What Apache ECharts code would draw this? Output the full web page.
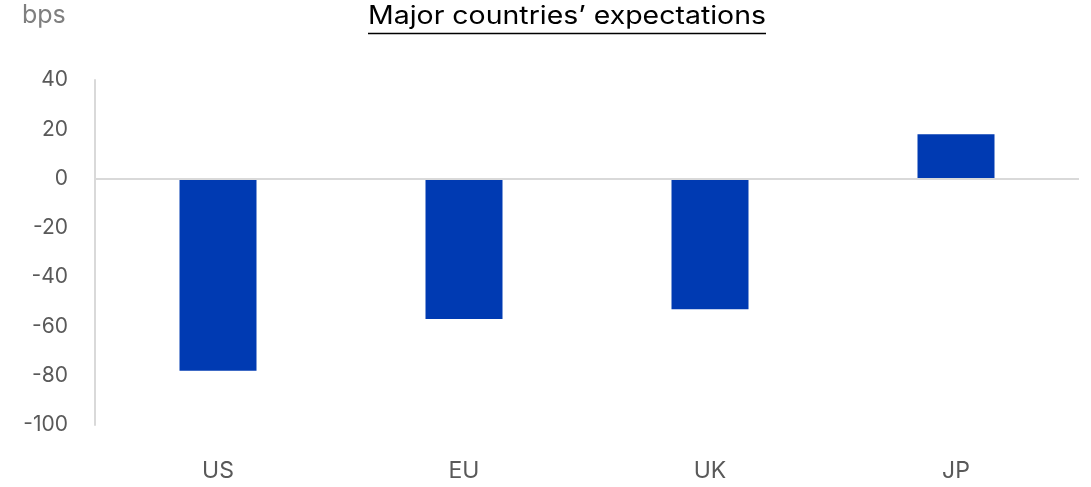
<!DOCTYPE html>
<html>
<head>
<meta charset="utf-8">
<script src="https://cdn.jsdelivr.net/npm/echarts@6/dist/echarts.min.js"></script>
<style>
  html, body { margin: 0; padding: 0; background: #ffffff; }
  #chart { width: 1091px; height: 487px; }
</style>
</head>
<body>
<div id="chart"></div>
<script>
// Expected policy-rate change by economy, in basis points
const countries = ['US', 'EU', 'UK', 'JP'];
const expectedBps = [-78, -57, -53, 18];
const yTicks = { min: -100, max: 40, step: 20 };

const titleText = 'Major countries\u2019 expectations';
const unitText = 'bps';
const FONT = 'Inter, "Noto Sans", sans-serif';

// width of a string in a given font, used to size the title and its underline
function textWidth(txt, font) {
  const c = document.createElement('canvas').getContext('2d');
  c.font = font;
  return c.measureText(txt).width;
}
const titleSize = 25;
const titleLeft = 368;
const titleSpan = 398;                     // drawn width of the title
const titleW = textWidth(titleText, titleSize + 'px ' + FONT);
const titleStretch = titleSpan / titleW;   // wide setting of the heading

const chart = echarts.init(document.getElementById('chart'), null, { renderer: 'canvas' });

chart.setOption({
  animation: false,
  backgroundColor: '#ffffff',
  grid: { left: 95, right: 12, top: 80, bottom: 62 },
  xAxis: {
    type: 'category',
    data: countries,
    axisLine: { show: false },
    axisTick: { show: false },
    axisLabel: { color: '#595959', fontSize: 23, fontFamily: FONT, margin: 35 }
  },
  yAxis: {
    type: 'value',
    min: yTicks.min,
    max: yTicks.max,
    interval: yTicks.step,
    axisLine: { show: true, lineStyle: { color: '#d9d9d9', width: 2 } },
    axisTick: { show: false },
    splitLine: { show: false },
    axisLabel: { color: '#595959', fontSize: 21, fontFamily: FONT, margin: 27 }
  },
  series: [{
    type: 'bar',
    data: expectedBps,
    barWidth: 77,
    itemStyle: { color: '#003AB2' },
    markLine: {
      silent: true,
      symbol: 'none',
      label: { show: false },
      lineStyle: { color: '#d9d9d9', width: 2, type: 'solid' },
      data: [{ yAxis: 0 }]
    },
    z: 3
  }],
  graphic: [
    {
      type: 'text',
      x: 22,
      y: 3,
      style: { text: unitText, fill: '#7f7f7f', font: '25px ' + FONT }
    },
    {
      type: 'text',
      x: titleLeft,
      y: 4,
      scaleX: titleStretch,
      style: { text: titleText, fill: '#000000', font: titleSize + 'px ' + FONT }
    },
    {
      type: 'line',
      shape: { x1: titleLeft, y1: 33.5, x2: titleLeft + titleSpan, y2: 33.5 },
      style: { stroke: '#000000', lineWidth: 1.3 }
    }
  ]
});
</script>
</body>
</html>
